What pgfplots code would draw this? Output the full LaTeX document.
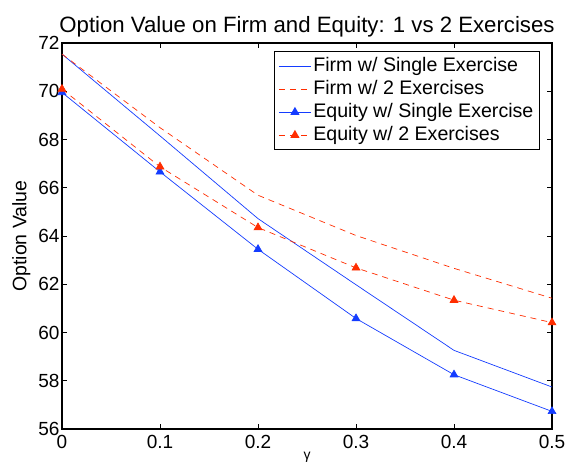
\documentclass[border=0pt]{standalone}
\usepackage{fontspec}
\setmainfont{Liberation Sans}
\usepackage{pgfplots}
\pgfplotsset{compat=1.18}
\usetikzlibrary{calc}
\definecolor{mblue}{RGB}{20,60,255}
\definecolor{mred}{RGB}{255,45,0}

\begin{document}
\begin{tikzpicture}[font=\fontsize{19.5}{23}\selectfont]
\begin{axis}[
    width=490pt, height=386pt, scale only axis,
    xmin=0, xmax=0.5, ymin=56, ymax=72,
    xtick={0,0.1,0.2,0.3,0.4,0.5},
    ytick={56,58,60,62,64,66,68,70,72},
    xticklabels={0,0.1,0.2,0.3,0.4,0.5},
    tick align=inside, xtick pos=both, ytick pos=both,
    major tick length=5pt,
    axis line style={line width=1.2pt},
    tick style={line width=0.8pt, black},
    /pgf/number format/assume math mode=true,
    tick label style={font=\fontsize{19}{23}\selectfont},
    xticklabel style={yshift=-3pt},
    yticklabel style={xshift=1pt},
    title={Option Value on Firm and Equity: 1 vs 2 Exercises},
    title style={font=\fontsize{22.2}{25}\selectfont, yshift=-4pt},
    xlabel={γ},
    xlabel style={font=\fontsize{14}{16}\selectfont, yshift=4pt},
    ylabel={Option Value},
    ylabel style={font=\fontsize{19.5}{23}\selectfont, yshift=1pt},
    legend style={at={(0.9755,0.979)}, anchor=north east, draw=black,
        line width=1.2pt, inner xsep=4pt, inner ysep=3pt, row sep=0pt,
        font=\fontsize{19.6}{23}\selectfont,
        nodes={inner xsep=2pt, inner ysep=1.5pt, text height=15pt, text depth=5pt}},
    legend cell align=left,
    legend image code/.code={\draw[line width=0.8pt, mark repeat=2, mark phase=2]
        plot coordinates {(0pt,0pt) (16pt,0pt) (32pt,0pt)};},
]
\addplot[mblue, line width=0.7pt] coordinates {
    (0,71.54) (0.1,68.15) (0.2,64.72) (0.3,61.98) (0.4,59.26) (0.5,57.74)};
\addlegendentry{Firm w/ Single Exercise}
\addplot[mred, line width=0.7pt, dash pattern=on 6pt off 5pt,
    legend image post style={draw=mred}] coordinates {
    (0,71.54) (0.1,68.49) (0.2,65.69) (0.3,64.02) (0.4,62.66) (0.5,61.42)};
\addlegendentry{Firm w/ 2 Exercises}
\addplot[mblue, line width=0.7pt, mark=triangle*, mark size=4.5pt,
    mark options={solid, fill=mblue}] coordinates {
    (0,69.95) (0.1,66.66) (0.2,63.45) (0.3,60.58) (0.4,58.25) (0.5,56.73)};
\addlegendentry{Equity w/ Single Exercise}
\addplot[mred, line width=0.7pt, dash pattern=on 6pt off 5pt, mark=triangle*,
    mark size=4.5pt, mark options={solid, fill=mred}] coordinates {
    (0,70.09) (0.1,66.87) (0.2,64.35) (0.3,62.68) (0.4,61.34) (0.5,60.41)};
\addlegendentry{Equity w/ 2 Exercises}
\end{axis}
\pgfresetboundingbox
\path[use as bounding box] ($(current axis.south west)+(-62pt,-42pt)$)
    rectangle ($(current axis.north east)+(14pt,43pt)$);
\end{tikzpicture}
\end{document}
